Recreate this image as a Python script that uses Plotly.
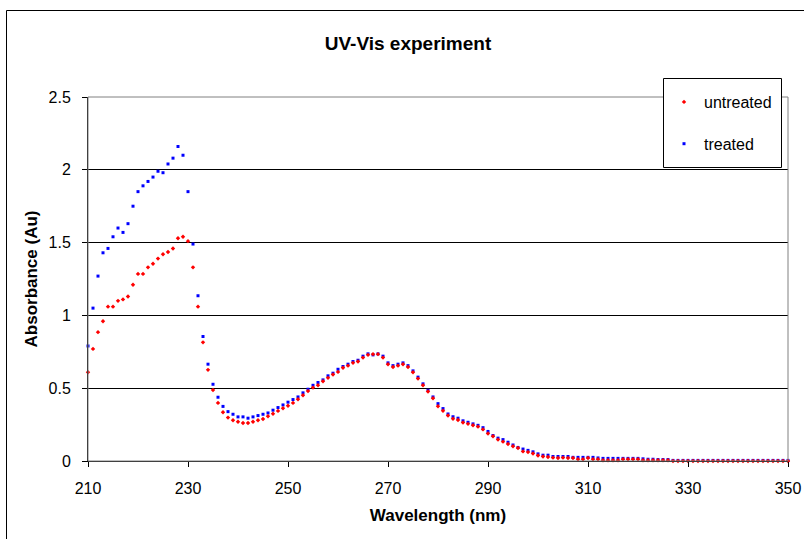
import plotly.graph_objects as go

wavelength = list(range(210, 351))

untreated = [
    0.61, 0.77, 0.885, 0.96, 1.06, 1.06, 1.10, 1.11, 1.13, 1.21,
    1.285, 1.285, 1.33, 1.355, 1.39, 1.42, 1.435, 1.46, 1.53, 1.54,
    1.51, 1.33, 1.06, 0.815, 0.626, 0.488, 0.399, 0.335, 0.298, 0.28,
    0.27, 0.261, 0.261, 0.27, 0.28, 0.289, 0.307, 0.325, 0.344, 0.362,
    0.38, 0.399, 0.424, 0.452, 0.48, 0.504, 0.52, 0.548, 0.571, 0.594,
    0.612, 0.64, 0.655, 0.674, 0.683, 0.71, 0.729, 0.734, 0.734, 0.71,
    0.665, 0.646, 0.655, 0.665, 0.646, 0.61, 0.566, 0.52, 0.477, 0.431,
    0.376, 0.345, 0.312, 0.29, 0.282, 0.264, 0.255, 0.245, 0.236, 0.217,
    0.189, 0.17, 0.147, 0.133, 0.117, 0.101, 0.089, 0.066, 0.061, 0.052,
    0.038, 0.031, 0.028, 0.023, 0.021, 0.023, 0.021, 0.021, 0.012, 0.012,
    0.021, 0.012, 0.012, 0.005, 0.005, 0.005, 0.005, 0.012, 0.012, 0.012,
    0.012, 0.005, 0.005, 0.005, 0.005, 0.005, 0.005, 0.0, 0.0, 0.0,
    0.0, 0.0, 0.0, 0.0, 0.0, 0.0, 0.0, 0.0, 0.0, 0.0,
    0.0, 0.0, 0.0, 0.0, 0.0, 0.0, 0.0, 0.0, 0.0, 0.0,
    0.0,
]

treated = [
    0.79, 1.05, 1.27, 1.43, 1.46, 1.54, 1.60, 1.57, 1.63, 1.75,
    1.85, 1.89, 1.92, 1.95, 1.99, 1.98, 2.04, 2.08, 2.16, 2.10,
    1.85, 1.49, 1.135, 0.855, 0.665, 0.527, 0.438, 0.375, 0.339, 0.321,
    0.303, 0.303, 0.294, 0.303, 0.312, 0.321, 0.33, 0.349, 0.367, 0.385,
    0.404, 0.422, 0.44, 0.468, 0.493, 0.52, 0.539, 0.557, 0.585, 0.603,
    0.63, 0.649, 0.665, 0.683, 0.692, 0.72, 0.736, 0.729, 0.736, 0.72,
    0.674, 0.655, 0.665, 0.674, 0.655, 0.619, 0.576, 0.53, 0.486, 0.44,
    0.394, 0.36, 0.323, 0.304, 0.294, 0.276, 0.266, 0.255, 0.245, 0.229,
    0.203, 0.175, 0.157, 0.147, 0.129, 0.11, 0.093, 0.082, 0.073, 0.063,
    0.049, 0.04, 0.04, 0.031, 0.031, 0.031, 0.031, 0.025, 0.025, 0.025,
    0.025, 0.025, 0.021, 0.018, 0.018, 0.018, 0.018, 0.018, 0.018, 0.018,
    0.018, 0.015, 0.012, 0.012, 0.01, 0.01, 0.01, 0.004, 0.004, 0.004,
    0.004, 0.004, 0.004, 0.004, 0.004, 0.004, 0.004, 0.004, 0.004, 0.004,
    0.004, 0.004, 0.004, 0.004, 0.004, 0.004, 0.004, 0.004, 0.004, 0.004,
    0.004,
]

x_ticks = [210, 230, 250, 270, 290, 310, 330, 350]
y_ticks = [0, 0.5, 1, 1.5, 2, 2.5]
y_tick_text = ["0", "0.5", "1", "1.5", "2", "2.5"]

FONT = "Arial, Liberation Sans, sans-serif"

fig = go.Figure()
fig.add_trace(go.Scatter(
    x=wavelength, y=treated, mode="markers", name="treated",
    legendgroup="b", legendrank=2, cliponaxis=False,
    marker=dict(symbol="square", size=3, color="#0000ff", line=dict(width=0)),
))
fig.add_trace(go.Scatter(
    x=wavelength, y=untreated, mode="markers", name="untreated",
    legendgroup="a", legendrank=1, cliponaxis=False,
    marker=dict(symbol="diamond", size=3.4, color="#ff0000", line=dict(width=0)),
))

# paper-coordinate helpers (plot area: x 88..788 px, y 97..461 px)
def px_x(p):
    return (p - 88) / 700.0

def px_y(p):
    return (461 - p) / 364.0

shapes = [
    # plot area border (gray)
    dict(type="rect", xref="paper", yref="paper", x0=0, x1=1, y0=0, y1=1,
         line=dict(color="#808080", width=1), layer="above"),
    # outer chart border
    dict(type="rect", xref="paper", yref="paper",
         x0=px_x(6.5), x1=px_x(820), y0=px_y(560), y1=px_y(10.5),
         line=dict(color="#000000", width=1), layer="below"),
    # legend box
    dict(type="rect", xref="paper", yref="paper",
         x0=px_x(663.5), x1=px_x(781.5), y0=px_y(167.5), y1=px_y(78.5),
         line=dict(color="#000000", width=1), fillcolor="#ffffff", layer="above"),
]

fig.update_layout(
    width=804, height=539,
    margin=dict(l=88, r=16, t=97, b=78, pad=0, autoexpand=False),
    paper_bgcolor="#ffffff", plot_bgcolor="#ffffff",
    font=dict(family=FONT, size=16, color="#000000"),
    title=dict(text="<b>UV-Vis experiment</b>", x=408 / 804, xref="container",
               y=(539 - 43) / 539, yref="container", yanchor="middle",
               font=dict(family=FONT, size=19, color="#000000")),
    showlegend=True,
    legend=dict(
        x=px_x(664), y=px_y(85), xanchor="left", yanchor="top",
        bgcolor="rgba(0,0,0,0)", borderwidth=0,
        traceorder="grouped", tracegroupgap=18,
        font=dict(family=FONT, size=16, color="#000000"),
        itemwidth=30,
    ),
    xaxis=dict(
        range=[210, 350], tickmode="array", tickvals=x_ticks,
        showline=True, linecolor="#000000", linewidth=1,
        ticks="outside", ticklen=5, tickcolor="#000000", tickwidth=1,
        showgrid=False, zeroline=False, ticklabelstandoff=8,
        automargin=False,
        tickfont=dict(family=FONT, size=16, color="#000000"),
        title=dict(text="<b>Wavelength (nm)</b>", standoff=12,
                   font=dict(family=FONT, size=17, color="#000000")),
    ),
    yaxis=dict(
        range=[0, 2.5], tickmode="array", tickvals=y_ticks, ticktext=y_tick_text,
        showline=True, linecolor="#000000", linewidth=1,
        ticks="outside", ticklen=5, tickcolor="#000000", tickwidth=1,
        showgrid=True, gridcolor="#000000", gridwidth=1, zeroline=False,
        ticklabelstandoff=8, automargin=False,
        tickfont=dict(family=FONT, size=16, color="#000000"),
        title=dict(text="<b>Absorbance (Au)</b>", standoff=6,
                   font=dict(family=FONT, size=17, color="#000000")),
    ),
    shapes=shapes,
)

fig.write_html("out.html")
